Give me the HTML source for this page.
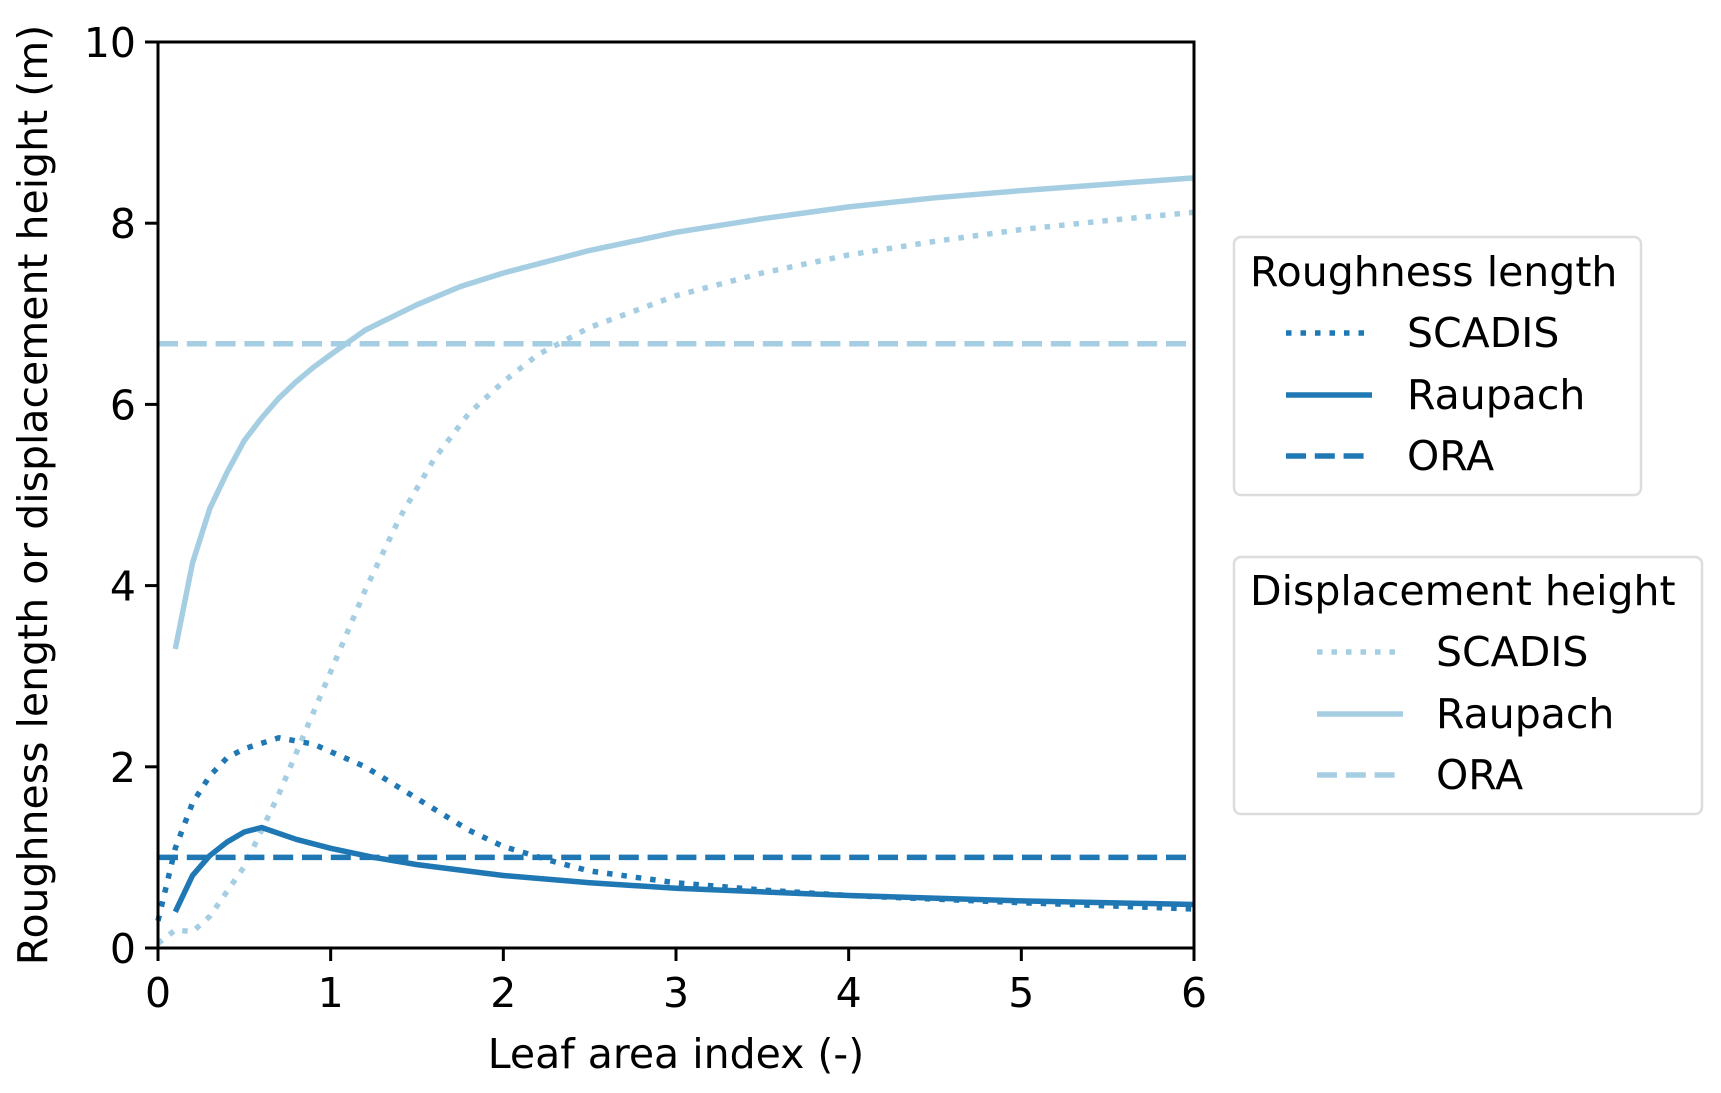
<!DOCTYPE html>
<html><head><meta charset="utf-8"><style>
body{margin:0;background:#fff}
svg text{font-family:"DejaVu Sans","Liberation Sans",sans-serif;fill:#000}
</style></head><body>
<svg id="chart" width="1721" height="1088" viewBox="0 0 1721 1088" xmlns="http://www.w3.org/2000/svg">
<g id="marks"></g>
<rect x="158" y="42" width="1036" height="906" fill="none" stroke="#000" stroke-width="3"/>
<g id="ticks"></g>
<text x="36" y="495" font-size="41" text-anchor="middle" transform="rotate(-90 36 495)" dominant-baseline="middle">Roughness length or displacement height (m)</text>
<text x="676" y="1068" font-size="41" text-anchor="middle">Leaf area index (-)</text>
<g transform="translate(-7,0)">
<g>
<rect x="1241" y="237" width="407" height="258" rx="7" fill="#fff" stroke="#ddd" stroke-width="2.5"/>
<text x="1257" y="286" font-size="41">Roughness length</text>
<line x1="1293" x2="1379" y1="333" y2="333" stroke="#1f78b4" stroke-width="5.5" stroke-dasharray="5.5,9"/>
<text x="1414" y="347" font-size="41">SCADIS</text>
<line x1="1293" x2="1379" y1="395" y2="395" stroke="#1f78b4" stroke-width="5.5"/>
<text x="1414" y="409" font-size="41">Raupach</text>
<line x1="1293" x2="1379" y1="456" y2="456" stroke="#1f78b4" stroke-width="5.5" stroke-dasharray="20,8.8"/>
<text x="1414" y="470" font-size="41">ORA</text>
</g>
<g>
<rect x="1241" y="557" width="468" height="257" rx="7" fill="#fff" stroke="#ddd" stroke-width="2.5"/>
<text x="1257" y="605" font-size="41">Displacement height</text>
<line x1="1324" x2="1410" y1="652" y2="652" stroke="#a6cee3" stroke-width="5.5" stroke-dasharray="5.5,9"/>
<text x="1443" y="666" font-size="41">SCADIS</text>
<line x1="1324" x2="1410" y1="714" y2="714" stroke="#a6cee3" stroke-width="5.5"/>
<text x="1443" y="728" font-size="41">Raupach</text>
<line x1="1324" x2="1410" y1="775" y2="775" stroke="#a6cee3" stroke-width="5.5" stroke-dasharray="20,8.8"/>
<text x="1443" y="789" font-size="41">ORA</text>
</g>
</g>
</svg>
<script>
const xTicks=[0,1,2,3,4,5,6];
const yTicks=[0,2,4,6,8,10];
const dispRaupachX=[0.1,0.2,0.3,0.4,0.5,0.6,0.7,0.8,0.9,1.0,1.2,1.5,1.75,2,2.5,3,3.5,4,4.5,5,5.5,6];
const dispRaupachY=[3.3,4.25,4.85,5.25,5.6,5.85,6.07,6.25,6.41,6.55,6.82,7.1,7.3,7.45,7.7,7.9,8.05,8.18,8.28,8.36,8.43,8.5];
const dispScadisX=[0,0.1,0.2,0.3,0.5,0.7,0.9,1.0,1.2,1.4,1.6,1.8,2.0,2.2,2.5,3,3.5,4,4.5,5,5.5,6];
const dispScadisY=[0.05,0.2,0.18,0.35,0.9,1.7,2.6,3.05,3.95,4.75,5.4,5.9,6.25,6.55,6.85,7.2,7.45,7.65,7.8,7.93,8.03,8.12];
const roughRaupachX=[0.1,0.2,0.3,0.4,0.5,0.6,0.8,1,1.25,1.5,2,2.5,3,4,5,6];
const roughRaupachY=[0.4,0.8,1.02,1.17,1.28,1.33,1.2,1.1,1.0,0.92,0.8,0.72,0.66,0.58,0.52,0.48];
const roughScadisX=[0,0.1,0.2,0.3,0.4,0.5,0.7,0.9,1.2,1.5,1.8,2,2.3,2.5,3,3.5,4,5,6];
const roughScadisY=[0.3,1.1,1.6,1.9,2.1,2.2,2.32,2.25,2.0,1.65,1.3,1.12,0.95,0.85,0.72,0.64,0.58,0.5,0.43];
const dispOra=[6.67];
const roughOra=[1.0];
const NS='http://www.w3.org/2000/svg';
const X0=158,X1=1194,Y0=948,Y1=42;
function sx(v){return X0+(v-0)/(6-0)*(X1-X0);}
function sy(v){return Y0-(v-0)/(10-0)*(Y0-Y1);}
const marks=document.getElementById('marks');
const ticks=document.getElementById('ticks');
function line(xs,ys,color,dash,name){
  const p=document.createElementNS(NS,'path');
  p.setAttribute('d',xs.map((x,i)=>(i?'L':'M')+sx(x).toFixed(1)+','+sy(ys[i]).toFixed(1)).join(''));
  p.setAttribute('fill','none');p.setAttribute('stroke',color);p.setAttribute('stroke-width','5.5');
  p.setAttribute('stroke-linejoin','round');
  if(dash)p.setAttribute('stroke-dasharray',dash);
  
  
  marks.appendChild(p);
}
const DOT='5.5,9',DASH='20,8.8';
line(dispRaupachX,dispRaupachY,'#a6cee3',null,'disp-raupach-line');
line(dispScadisX,dispScadisY,'#a6cee3',DOT,'disp-scadis-line');
line([0,6],[dispOra[0],dispOra[0]],'#a6cee3',DASH,'disp-ora-line');
line(roughRaupachX,roughRaupachY,'#1f78b4',null,'rough-raupach-line');
line(roughScadisX,roughScadisY,'#1f78b4',DOT,'rough-scadis-line');
line([0,6],[roughOra[0],roughOra[0]],'#1f78b4',DASH,'rough-ora-line');
xTicks.forEach(v=>{
  const l=document.createElementNS(NS,'line');
  l.setAttribute('x1',sx(v));l.setAttribute('x2',sx(v));l.setAttribute('y1',Y0);l.setAttribute('y2',Y0+13);
  l.setAttribute('stroke','#000');l.setAttribute('stroke-width','3');
  
  
  ticks.appendChild(l);
  const t=document.createElementNS(NS,'text');
  t.setAttribute('x',sx(v));t.setAttribute('y',Y0+59);t.setAttribute('font-size','41');t.setAttribute('text-anchor','middle');
  t.textContent=v;
  
  
  ticks.appendChild(t);
});
yTicks.forEach(v=>{
  const l=document.createElementNS(NS,'line');
  l.setAttribute('x1',X0-13);l.setAttribute('x2',X0);l.setAttribute('y1',sy(v));l.setAttribute('y2',sy(v));
  l.setAttribute('stroke','#000');l.setAttribute('stroke-width','3');
  
  
  ticks.appendChild(l);
  const t=document.createElementNS(NS,'text');
  t.setAttribute('x',X0-22);t.setAttribute('y',sy(v)+15);t.setAttribute('font-size','41');t.setAttribute('text-anchor','end');
  t.textContent=v;
  
  
  ticks.appendChild(t);
});
</script>
</body></html>
